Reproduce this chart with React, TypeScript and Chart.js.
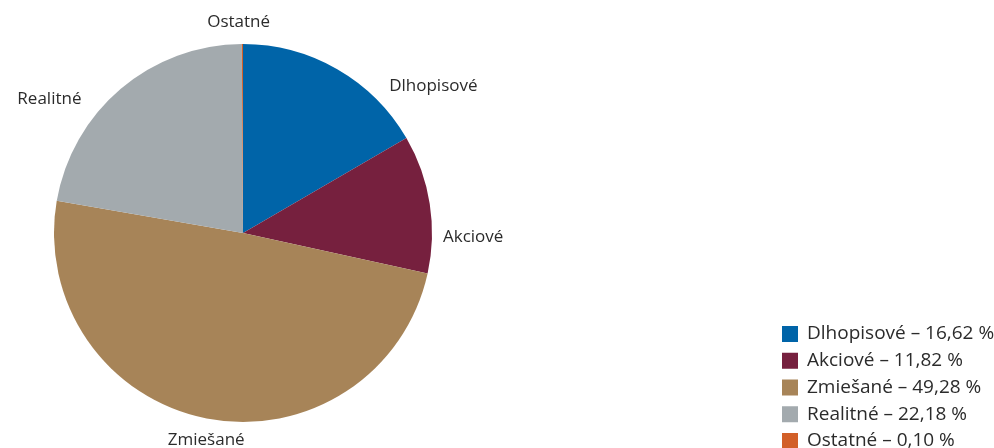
import React, { useEffect, useRef } from "react";
import { Chart, registerables } from "chart.js";

Chart.register(...registerables);

const CATEGORIES = ["Dlhopisové", "Akciové", "Zmiešané", "Realitné", "Ostatné"];
const SHARES = [16.62, 11.82, 49.28, 22.18, 0.1];
const COLORS = ["#0064a8", "#76203e", "#a78458", "#a3aaae", "#d25f28"];

// label layout tweaks: angle nudge from slice mid-angle (deg) and gap from pie edge (px)
const LABEL_NUDGE_DEG = [15, 10, -1, -10, -1];
const LABEL_GAP = [18, 11, 21, 21, 22];
const FONT = "'Open Sans', Lato, 'Noto Sans', sans-serif";
const TEXT_COLOR = "#2b2b2b";

const fmt = (v: number) => v.toFixed(2).replace(".", ",") + " %";

const labelsPlugin = {
  id: "outerLabels",
  afterDatasetsDraw(chart: any) {
    const ctx = chart.ctx;
    const meta = chart.getDatasetMeta(0);
    ctx.save();
    ctx.font = `17px ${FONT}`;
    ctx.fillStyle = TEXT_COLOR;
    ctx.textBaseline = "middle";
    meta.data.forEach((arc: any, i: number) => {
      const mid = (arc.startAngle + arc.endAngle) / 2 + (LABEL_NUDGE_DEG[i] * Math.PI) / 180;
      const r = arc.outerRadius + LABEL_GAP[i];
      const x = arc.x + Math.cos(mid) * r;
      const y = arc.y + Math.sin(mid) * r;
      const c = Math.cos(mid);
      ctx.textAlign = Math.abs(c) < 0.25 ? "center" : c > 0 ? "left" : "right";
      ctx.fillText(CATEGORIES[i], x, y);
    });
    ctx.restore();
  },
};

const legendPlugin = {
  id: "customLegend",
  afterDraw(chart: any) {
    const ctx = chart.ctx;
    const left = 782;
    const top = 326;
    const step = 26.75;
    const box = 16;
    ctx.save();
    ctx.font = `19px ${FONT}`;
    ctx.textBaseline = "middle";
    ctx.textAlign = "left";
    CATEGORIES.forEach((name, i) => {
      const y = top + i * step;
      ctx.fillStyle = COLORS[i];
      ctx.fillRect(left, y, box, box);
      ctx.fillStyle = TEXT_COLOR;
      ctx.fillText(`${name} – ${fmt(SHARES[i])}`, left + 25, y + box / 2);
    });
    ctx.restore();
  },
};

export default function App() {
  const ref = useRef<HTMLCanvasElement>(null);
  useEffect(() => {
    document.body.style.margin = "0";
    const chart = new Chart(ref.current!, {
      type: "pie",
      data: {
        labels: CATEGORIES,
        datasets: [
          {
            data: SHARES,
            backgroundColor: COLORS,
            borderWidth: 0,
          },
        ],
      },
      options: {
        animation: false,
        responsive: false,
        devicePixelRatio: 1,
        layout: { padding: { left: 54, top: 44, bottom: 26, right: 562 } },
        plugins: {
          legend: { display: false },
          tooltip: { enabled: false },
        },
      },
      plugins: [labelsPlugin, legendPlugin],
    });
    return () => chart.destroy();
  }, []);
  return (
    <div style={{ width: 994, height: 448 }}>
      <canvas ref={ref} width={994} height={448} />
    </div>
  );
}
